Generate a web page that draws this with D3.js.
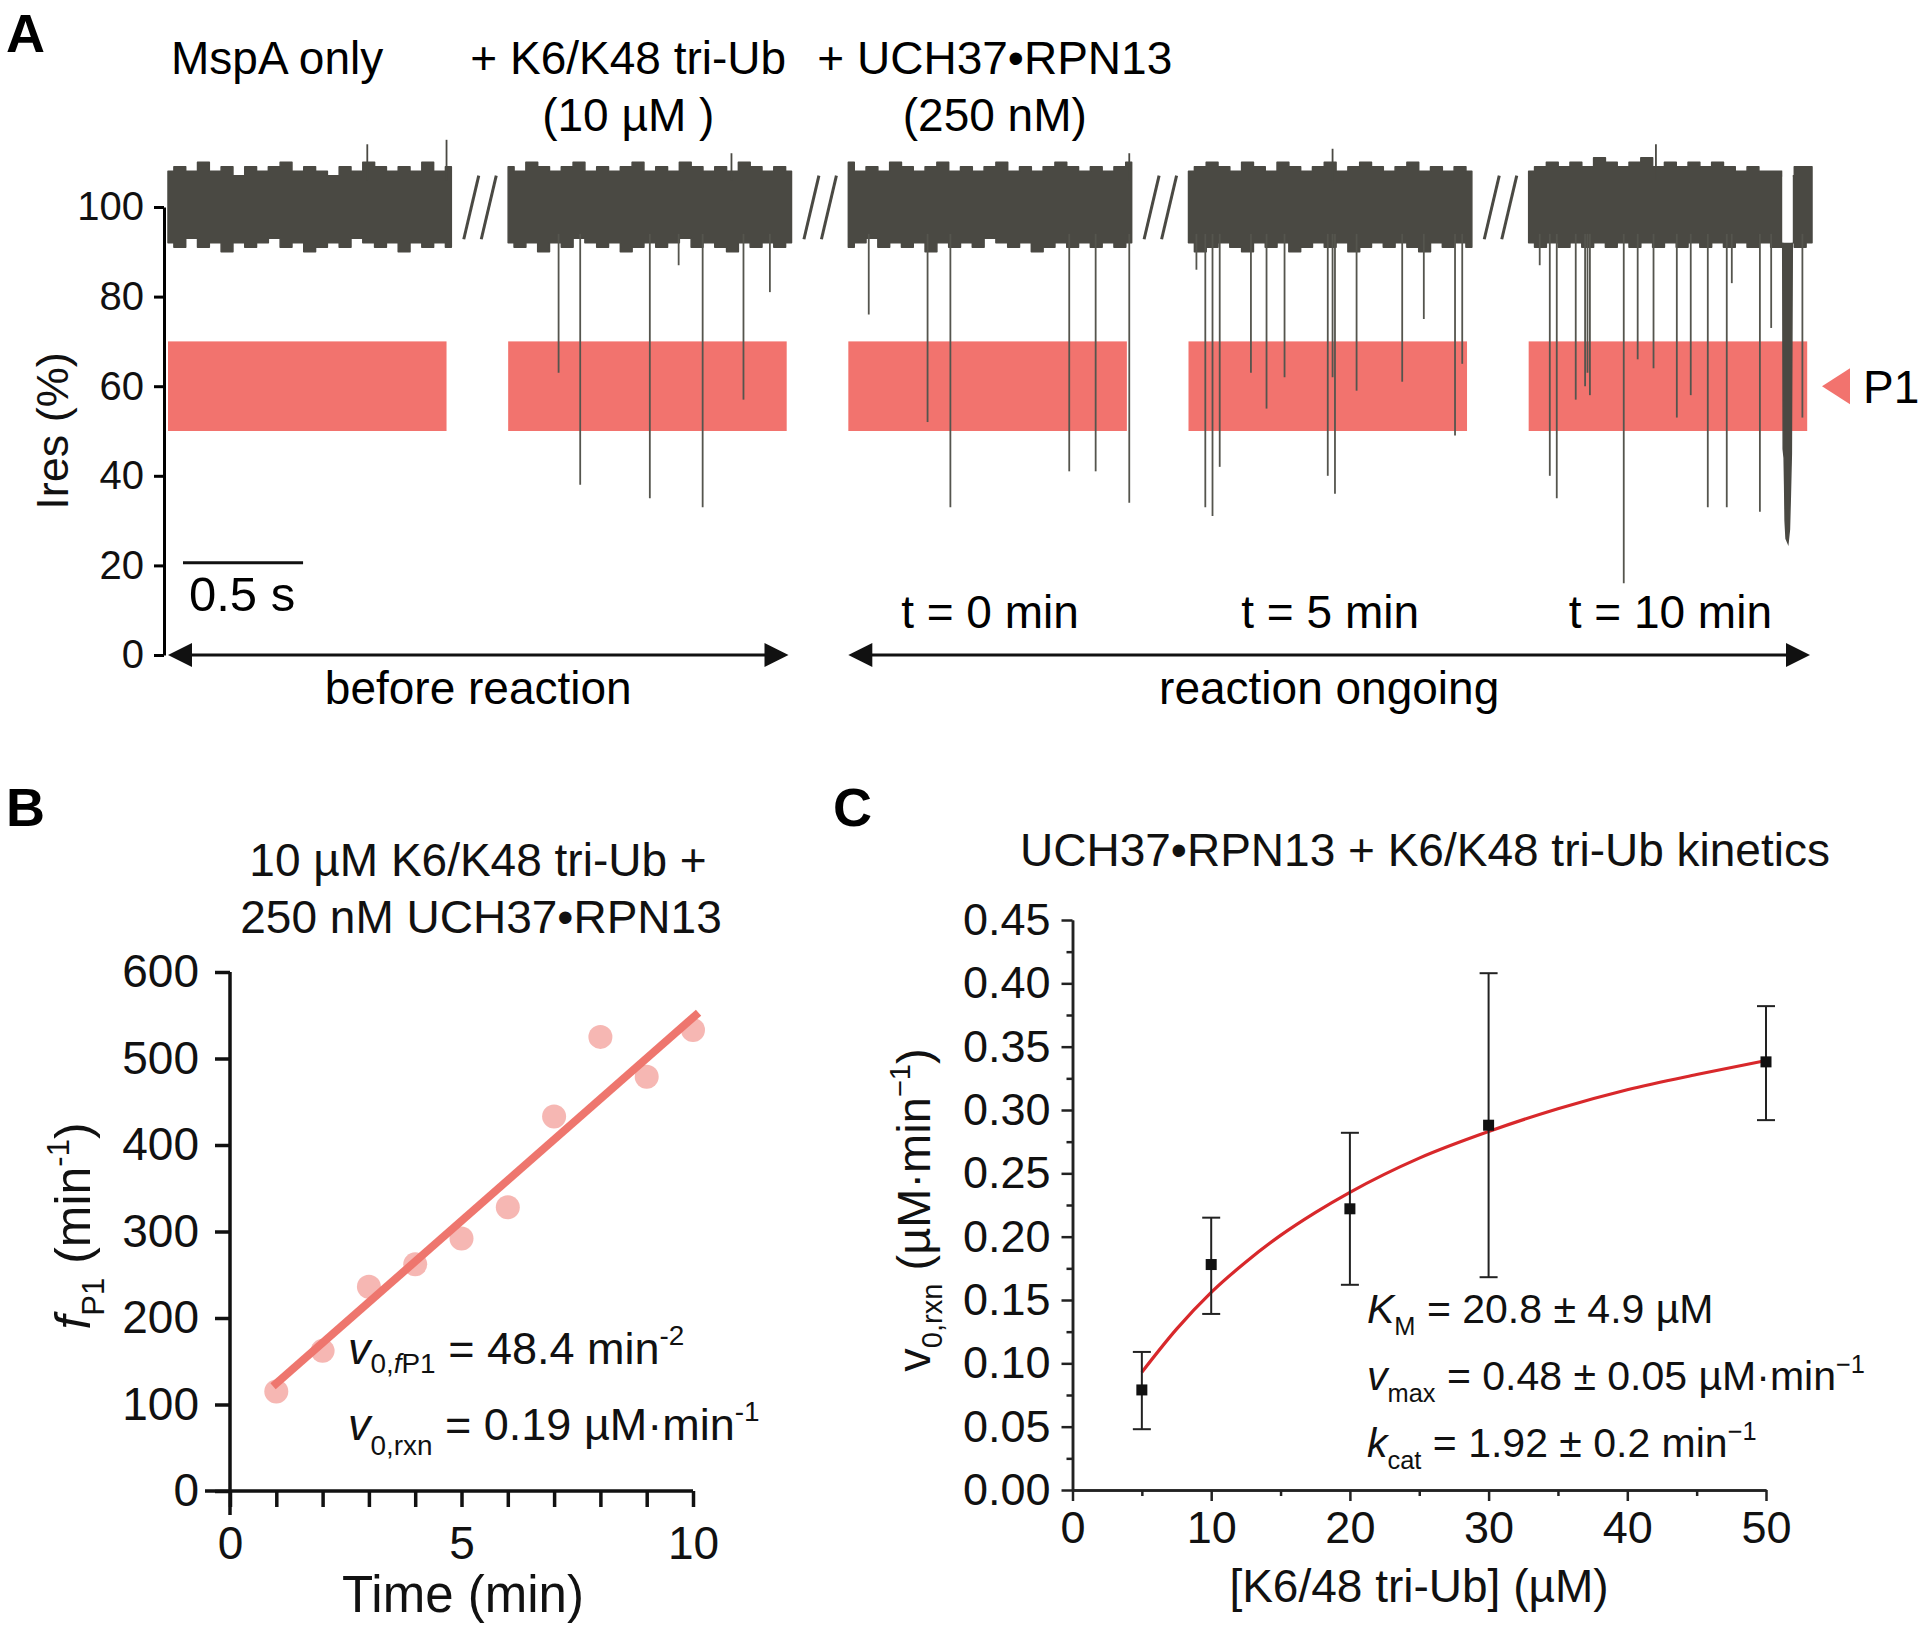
<!DOCTYPE html>
<html><head><meta charset="utf-8">
<script src="https://cdn.jsdelivr.net/npm/d3@7"></script>
<style>
body{margin:0;background:#fff;}
svg{display:block;font-family:"Liberation Sans",Arial,Helvetica,sans-serif;}
</style></head><body>
<svg id="fig" width="1920" height="1634"></svg>
<script>
// ================= DATA =================
// ---- Panel A: nanopore traces (Ires %, time in s within each segment) ----
const ticksA = [0, 20, 40, 60, 80, 100];
const segDuration = 1.18;          // s shown per trace segment
const segPeriod = 1.4167;          // s between segment starts (incl. break)
const p1Band = [50, 70];           // P1 residual current window (%)
const envTop = [
  [108,109,108,110,108,109,107,109,108,109,110,108,109,108,107,109,108,110,109,108,109,108,110,108,109],
  [109,108,110,109,108,109,110,108,109,108,109,110,108,109,108,110,109,108,109,108,110,109,108,109,108],
  [110,108,109,108,110,109,108,109,110,108,109,108,109,110,108,109,108,109,110,109,108,109,108,109,110],
  [108,109,110,109,108,110,109,108,110,109,108,109,110,108,109,110,109,108,109,110,108,109,108,109,108],
  [108,109,110,109,110,109,111,110,109,110,111,109,110,109,110,109,110,109,108,109,108,108,107,109,109]
];
const envBottom = [
  [92,91,93,91,92,90,92,91,92,93,91,92,90,91,92,91,93,92,91,92,90,92,91,92,91],
  [92,91,92,90,92,91,93,92,91,92,90,91,92,91,92,93,91,92,91,90,92,91,92,91,92],
  [91,92,93,91,92,91,92,90,92,91,92,91,93,92,91,92,90,91,92,91,92,91,92,91,92],
  [92,90,91,92,91,90,92,91,92,90,91,92,91,92,90,91,92,91,92,91,90,92,91,92,91],
  [92,91,92,91,92,91,92,91,92,91,92,91,92,91,92,91,92,91,92,91,92,91,92,91,92]
];
// downward blockade events: [segment, time (s), minimum Ires (%)]
const events = [
  [1,0.21,63],[1,0.30,38],[1,0.59,35],[1,0.71,87],[1,0.81,33],[1,0.98,57],[1,1.09,81],
  [2,0.085,76],[2,0.33,52],[2,0.425,33],[2,0.92,41],[2,1.03,41],[2,1.17,34],
  [3,0.033,86],[3,0.07,33],[3,0.10,31],[3,0.13,42],[3,0.26,63],[3,0.325,55],[3,0.40,62],
  [3,0.58,40],[3,0.60,62],[3,0.61,36],[3,0.70,59],[3,0.89,61],[3,0.98,75],[3,1.11,49],[3,1.14,65],
  [4,0.046,87],[4,0.088,40],[4,0.117,35],[4,0.196,57],[4,0.235,60],[4,0.245,63],[4,0.255,58],
  [4,0.396,16],[4,0.454,66],[4,0.52,64],[4,0.617,53],[4,0.675,58],[4,0.746,33],[4,0.825,33],
  [4,0.846,83],[4,0.963,32],[4,1.01,73],[4,1.14,53]
];
// upward noise peaks: [segment, time, max Ires]
const peaks = [[0,0.83,114],[0,1.16,115],[1,0.93,112],[2,1.17,112],[3,0.60,113],[4,0.53,114]];
// long blockade in last segment: [time, Ires] outline
const longBlockSeg = 4;
const longBlock = [[1.058,92],[1.060,46],[1.064,44],[1.066,38],[1.068,30],[1.072,26],[1.080,25],[1.086,28],[1.090,36],[1.094,45],[1.098,92]];
const longBlockGap = [1.056, 1.100];
const scaleBarSec = 0.5;
const timeLabels = ["t = 0 min", "t = 5 min", "t = 10 min"];

// ---- Panel B ----
const timeB = [1,2,3,4,5,6,7,8,9,10];
const fP1 = [115,162,236,262,292,328,433,525,479,533];
const fitBX = [0.93, 10.12];
const fitBY = [121, 553];
const ticksBY = [0,100,200,300,400,500,600];
const ticksBX = [0,1,2,3,4,5,6,7,8,9,10];

// ---- Panel C ----
const conc = [5,10,20,30,50];
const v0 = [0.079,0.178,0.222,0.288,0.338];
const errLow = [0.048,0.139,0.162,0.168,0.292];
const errHigh = [0.109,0.215,0.282,0.408,0.382];
const fitCX = [5,7.5,10,12.5,15,17.5,20,25,30,35,40,45,50];
const fitCY = [0.093,0.127,0.156,0.180,0.201,0.219,0.235,0.262,0.283,0.301,0.316,0.328,0.339];
const ticksCY = [0,0.05,0.10,0.15,0.20,0.25,0.30,0.35,0.40,0.45];
const ticksCX = [0,10,20,30,40,50];

// ================= DRAWING =================
const svg = d3.select("#fig");
const TRACE = "#4a4943", SPIKE = "#55554e", RED = "#f2736e";

function rich(sel, x, y, size, parts, opts = {}) {
  const t = sel.append("text").attr("x", x).attr("y", y).attr("font-size", size)
    .attr("text-anchor", opts.anchor || "start").attr("fill", "#111");
  if (opts.rotate) t.attr("transform", `rotate(-90,${x},${y})`);
  let shift = 0;
  parts.forEach(p => {
    const ts = t.append("tspan").text(p.t);
    let target = 0, fs = size;
    if (p.sub) { target = size * (p.off ?? 0.28); fs = size * 0.62; }
    if (p.sup) { target = -size * 0.42; fs = size * 0.62; }
    ts.attr("dy", target - shift).attr("font-size", fs);
    shift = target;
    if (p.i) ts.attr("font-style", "italic");
  });
  return t;
}

// panel letters
[["A",6,52],["B",6,826],["C",833,826]].forEach(([l,x,y]) =>
  svg.append("text").attr("x",x).attr("y",y).attr("font-size",54).attr("font-weight","bold").text(l));

// ---------- Panel A ----------
const gA = svg.append("g");
const xA = d3.scaleLinear().domain([0, 4*segPeriod + segDuration]).range([168, 1812]);
const yA = d3.scaleLinear().domain([0, 100]).range([655, 207]);
const off = i => i * segPeriod;

const axA = gA.append("g").attr("transform", "translate(164,0)")
  .call(d3.axisLeft(yA).tickValues(ticksA).tickSize(10).tickPadding(10).tickSizeOuter(0));
axA.select(".domain").attr("stroke-width", 3);
axA.selectAll(".tick line").attr("stroke-width", 3);
axA.selectAll(".tick text").attr("font-size", 40).attr("font-family", "Liberation Sans, Arial, sans-serif").attr("fill","#111");

rich(gA, 68, yA(50), 45, [{t:"Ires (%)"}], {anchor:"middle", rotate:true});

// red P1 bands
d3.range(5).forEach(i => {
  gA.append("rect").attr("x", xA(off(i))).attr("width", xA(off(i)+segDuration-0.02)-xA(off(i)))
    .attr("y", yA(p1Band[1])).attr("height", yA(p1Band[0]) - yA(p1Band[1])).attr("fill", RED);
});

// clip for long block gap
const defs = svg.append("defs");
d3.range(5).forEach(i => {
  const cp = defs.append("clipPath").attr("id", "segclip"+i);
  if (i === longBlockSeg) {
    cp.append("rect").attr("x", xA(off(i))-2).attr("width", xA(off(i)+longBlockGap[0])-xA(off(i))+2).attr("y",0).attr("height",800);
    cp.append("rect").attr("x", xA(off(i)+longBlockGap[1])).attr("width", xA(off(i)+segDuration)-xA(off(i)+longBlockGap[1])+2).attr("y",0).attr("height",800);
  } else {
    cp.append("rect").attr("x", xA(off(i))-2).attr("width", xA(off(i)+segDuration)-xA(off(i))+4).attr("y",0).attr("height",800);
  }
});

// trace envelopes
d3.range(5).forEach(i => {
  const n = envTop[i].length;
  const pts = envTop[i].map((v, k) => ({t: off(i) + segDuration*k/(n-1), top: v, bot: envBottom[i][k]}));
  gA.append("path").datum(pts)
    .attr("d", d3.area().x(d => xA(d.t)).y0(d => yA(d.bot)).y1(d => yA(d.top)).curve(d3.curveStep))
    .attr("fill", TRACE).attr("stroke", TRACE).attr("stroke-width", 1.5).attr("stroke-linejoin","round")
    .attr("clip-path", `url(#segclip${i})`);
});
// downward events
gA.selectAll(".ev").data(events).join("line")
  .attr("x1", d => xA(off(d[0])+d[1])).attr("x2", d => xA(off(d[0])+d[1]))
  .attr("y1", yA(94)).attr("y2", d => yA(d[2]))
  .attr("stroke", SPIKE).attr("stroke-width", 1.8);
// upward peaks
gA.selectAll(".pk").data(peaks).join("line")
  .attr("x1", d => xA(off(d[0])+d[1])).attr("x2", d => xA(off(d[0])+d[1]))
  .attr("y1", yA(106)).attr("y2", d => yA(d[2]))
  .attr("stroke", TRACE).attr("stroke-width", 1.8);
// long block
gA.append("path").datum(longBlock)
  .attr("d", d3.line().x(d => xA(off(longBlockSeg)+d[0])).y(d => yA(d[1])))
  .attr("fill", TRACE).attr("stroke", TRACE).attr("stroke-width", 1.5);

// break marks //
d3.range(4).forEach(i => {
  const c = (xA(off(i)+segDuration) + xA(off(i+1))) / 2;
  [[-16,-1],[1.5,16.5]].forEach(([a,b]) =>
    gA.append("line").attr("x1", c+a).attr("y1", yA(92.8)).attr("x2", c+b).attr("y2", yA(107))
      .attr("stroke", TRACE).attr("stroke-width", 3));
});

// top annotations
const topFont = 46;
gA.append("text").attr("x", xA(0)+3).attr("y", 74).attr("font-size", topFont).text("MspA only");
gA.append("text").attr("x", xA(off(1)+0.5)).attr("y", 74).attr("font-size", topFont).attr("text-anchor","middle").text("+ K6/K48 tri-Ub");
gA.append("text").attr("x", xA(off(1)+0.5)).attr("y", 131).attr("font-size", topFont).attr("text-anchor","middle").text("(10 µM )");
gA.append("text").attr("x", xA(off(2)+0.61)).attr("y", 74).attr("font-size", topFont).attr("text-anchor","middle").text("+ UCH37•RPN13");
gA.append("text").attr("x", xA(off(2)+0.61)).attr("y", 131).attr("font-size", topFont).attr("text-anchor","middle").text("(250 nM)");

// P1 marker
const p1y = yA((p1Band[0]+p1Band[1])/2);
const p1x = xA(4*segPeriod + segDuration) + 10;
gA.append("path").attr("d", `M${p1x},${p1y} L${p1x+28},${p1y-18} L${p1x+28},${p1y+18} Z`).attr("fill", RED);
gA.append("text").attr("x", p1x+41).attr("y", p1y+17).attr("font-size", 46).text("P1");

// scale bar
gA.append("line").attr("x1", xA(0.0625)).attr("x2", xA(0.0625+scaleBarSec)).attr("y1", yA(20.6)).attr("y2", yA(20.6))
  .attr("stroke", "#111").attr("stroke-width", 3);
gA.append("text").attr("x", xA(0.0625)+6).attr("y", 611).attr("font-size", 49).text(scaleBarSec + " s");

// time labels
timeLabels.forEach((l, k) =>
  gA.append("text").attr("x", xA(off(k+2)+segDuration/2)).attr("y", 628).attr("font-size", 46)
    .attr("text-anchor","middle").text(l));

// double arrows
function dblArrow(x1, x2, y, label) {
  gA.append("line").attr("x1", x1+10).attr("x2", x2-10).attr("y1", y).attr("y2", y).attr("stroke","#111").attr("stroke-width",3.2);
  gA.append("path").attr("d", `M${x1},${y} L${x1+24},${y-12} L${x1+24},${y+12} Z`).attr("fill","#111");
  gA.append("path").attr("d", `M${x2},${y} L${x2-24},${y-12} L${x2-24},${y+12} Z`).attr("fill","#111");
  gA.append("text").attr("x", (x1+x2)/2).attr("y", 704).attr("font-size", 46).attr("text-anchor","middle").text(label);
}
dblArrow(xA(0), xA(off(1)+segDuration)-3, yA(0), "before reaction");
dblArrow(xA(off(2)), xA(off(4)+segDuration)-2, yA(0), "reaction ongoing");

// ---------- Panel B ----------
const gB = svg.append("g");
const xB = d3.scaleLinear().domain([0, 10]).range([230, 693]);
const yB = d3.scaleLinear().domain([0, 600]).range([1491, 972]);

rich(gB, 478, 876, 46, [{t:"10 µM K6/K48 tri-Ub +"}], {anchor:"middle"});
rich(gB, 481, 933, 46, [{t:"250 nM UCH37•RPN13"}], {anchor:"middle"});

const ayB = gB.append("g").attr("transform", `translate(${xB(0)},0)`)
  .call(d3.axisLeft(yB).tickValues(ticksBY).tickSize(15).tickPadding(16).tickSizeOuter(0));
const axB = gB.append("g").attr("transform", `translate(0,${yB(0)})`)
  .call(d3.axisBottom(xB).tickValues(ticksBX).tickSize(16).tickPadding(19).tickSizeOuter(0)
    .tickFormat(d => d % 5 === 0 ? d : ""));
[ayB, axB].forEach(a => {
  a.select(".domain").remove();
  a.selectAll(".tick line").attr("stroke","#111").attr("stroke-width", 3.5);
  a.selectAll(".tick text").attr("font-size", 46).attr("font-family","Liberation Sans, Arial, sans-serif").attr("fill","#111");
});
gB.append("line").attr("x1", xB(0)-25).attr("x2", xB(10)).attr("y1", yB(0)).attr("y2", yB(0)).attr("stroke","#111").attr("stroke-width",3.5);
gB.append("line").attr("x1", xB(0)).attr("x2", xB(0)).attr("y1", yB(600)).attr("y2", yB(0)+24).attr("stroke","#111").attr("stroke-width",3.5);

gB.selectAll(".pt").data(timeB).join("circle")
  .attr("cx", d => xB(d)).attr("cy", (d, i) => yB(fP1[i])).attr("r", 12)
  .attr("fill", "#ee7068").attr("fill-opacity", 0.5);
gB.append("line").attr("x1", xB(fitBX[0])).attr("y1", yB(fitBY[0])).attr("x2", xB(fitBX[1])).attr("y2", yB(fitBY[1]))
  .attr("stroke", "#ee766e").attr("stroke-width", 8);

rich(gB, 463, 1612, 51, [{t:"Time (min)"}], {anchor:"middle"});
rich(gB, 90, 1226, 50, [{t:"f", i:true},{t:"P1", sub:true},{t:" (min"},{t:"-1", sup:true},{t:")"}], {anchor:"middle", rotate:true});

rich(gB, 348, 1364, 45, [{t:"v", i:true},{t:"0,", sub:true, off:0.2},{t:"f", sub:true, off:0.2, i:true},{t:"P1", sub:true, off:0.2},{t:" = 48.4 min"},{t:"-2", sup:true}]);
rich(gB, 348, 1440, 45, [{t:"v", i:true},{t:"0,rxn", sub:true, off:0.34},{t:" = 0.19 µM·min"},{t:"-1", sup:true}]);

// ---------- Panel C ----------
const gC = svg.append("g");
const xC = d3.scaleLinear().domain([0, 50]).range([1072.5, 1766]);
const yC = d3.scaleLinear().domain([0, 0.45]).range([1490, 920]);

rich(gC, 1425, 866, 46, [{t:"UCH37•RPN13 + K6/K48 tri-Ub kinetics"}], {anchor:"middle"});

const ayC = gC.append("g").attr("transform", `translate(${xC(0)},0)`)
  .call(d3.axisLeft(yC).tickValues(ticksCY).tickSize(11).tickPadding(11).tickSizeOuter(0).tickFormat(d3.format(".2f")));
const axC = gC.append("g").attr("transform", `translate(0,${yC(0)})`)
  .call(d3.axisBottom(xC).tickValues(ticksCX).tickSize(11).tickPadding(10).tickSizeOuter(0));
const myC = gC.append("g").attr("transform", `translate(${xC(0)},0)`)
  .call(d3.axisLeft(yC).tickValues(ticksCY.slice(0,-1).map(v => v + 0.025)).tickSize(6).tickFormat("").tickSizeOuter(0));
const mxC = gC.append("g").attr("transform", `translate(0,${yC(0)})`)
  .call(d3.axisBottom(xC).tickValues(ticksCX.slice(0,-1).map(v => v + 5)).tickSize(6).tickFormat("").tickSizeOuter(0));
[ayC, axC, myC, mxC].forEach(a => {
  a.select(".domain").attr("stroke","#222").attr("stroke-width", 2.5);
  a.selectAll(".tick line").attr("stroke","#222").attr("stroke-width", 2.5);
  a.selectAll(".tick text").attr("font-size", 45).attr("font-family","Liberation Sans, Arial, sans-serif").attr("fill","#111");
});

// fit curve
gC.append("path").datum(fitCX.map((x, i) => [x, fitCY[i]]))
  .attr("d", d3.line().x(d => xC(d[0])).y(d => yC(d[1])).curve(d3.curveMonotoneX))
  .attr("fill","none").attr("stroke","#d8282b").attr("stroke-width",3.2);
// error bars
conc.forEach((c, i) => {
  const x = xC(c);
  gC.append("line").attr("x1",x).attr("x2",x).attr("y1",yC(errLow[i])).attr("y2",yC(errHigh[i])).attr("stroke","#222").attr("stroke-width",2);
  [errLow[i], errHigh[i]].forEach(v =>
    gC.append("line").attr("x1",x-9).attr("x2",x+9).attr("y1",yC(v)).attr("y2",yC(v)).attr("stroke","#222").attr("stroke-width",2));
});
gC.selectAll(".sq").data(conc).join("rect")
  .attr("x", d => xC(d)-5.5).attr("y", (d, i) => yC(v0[i])-5.5).attr("width",11).attr("height",11).attr("fill","#111");

rich(gC, 1419, 1602, 46, [{t:"[K6/48 tri-Ub] (µM)"}], {anchor:"middle"});
rich(gC, 930, 1210, 47, [{t:"v"},{t:"0,rxn", sub:true, off:0.25},{t:" (µM·min"},{t:"−1", sup:true},{t:")"}], {anchor:"middle", rotate:true});

rich(gC, 1367, 1323, 41, [{t:"K", i:true},{t:"M", sub:true, off:0.3},{t:" = 20.8 ± 4.9 µM"}]);
rich(gC, 1367, 1390, 41, [{t:"v", i:true},{t:"max", sub:true, off:0.3},{t:" = 0.48 ± 0.05 µM·min"},{t:"−1", sup:true}]);
rich(gC, 1367, 1457, 41, [{t:"k", i:true},{t:"cat", sub:true, off:0.3},{t:" = 1.92 ± 0.2 min"},{t:"−1", sup:true}]);
</script>
</body></html>
